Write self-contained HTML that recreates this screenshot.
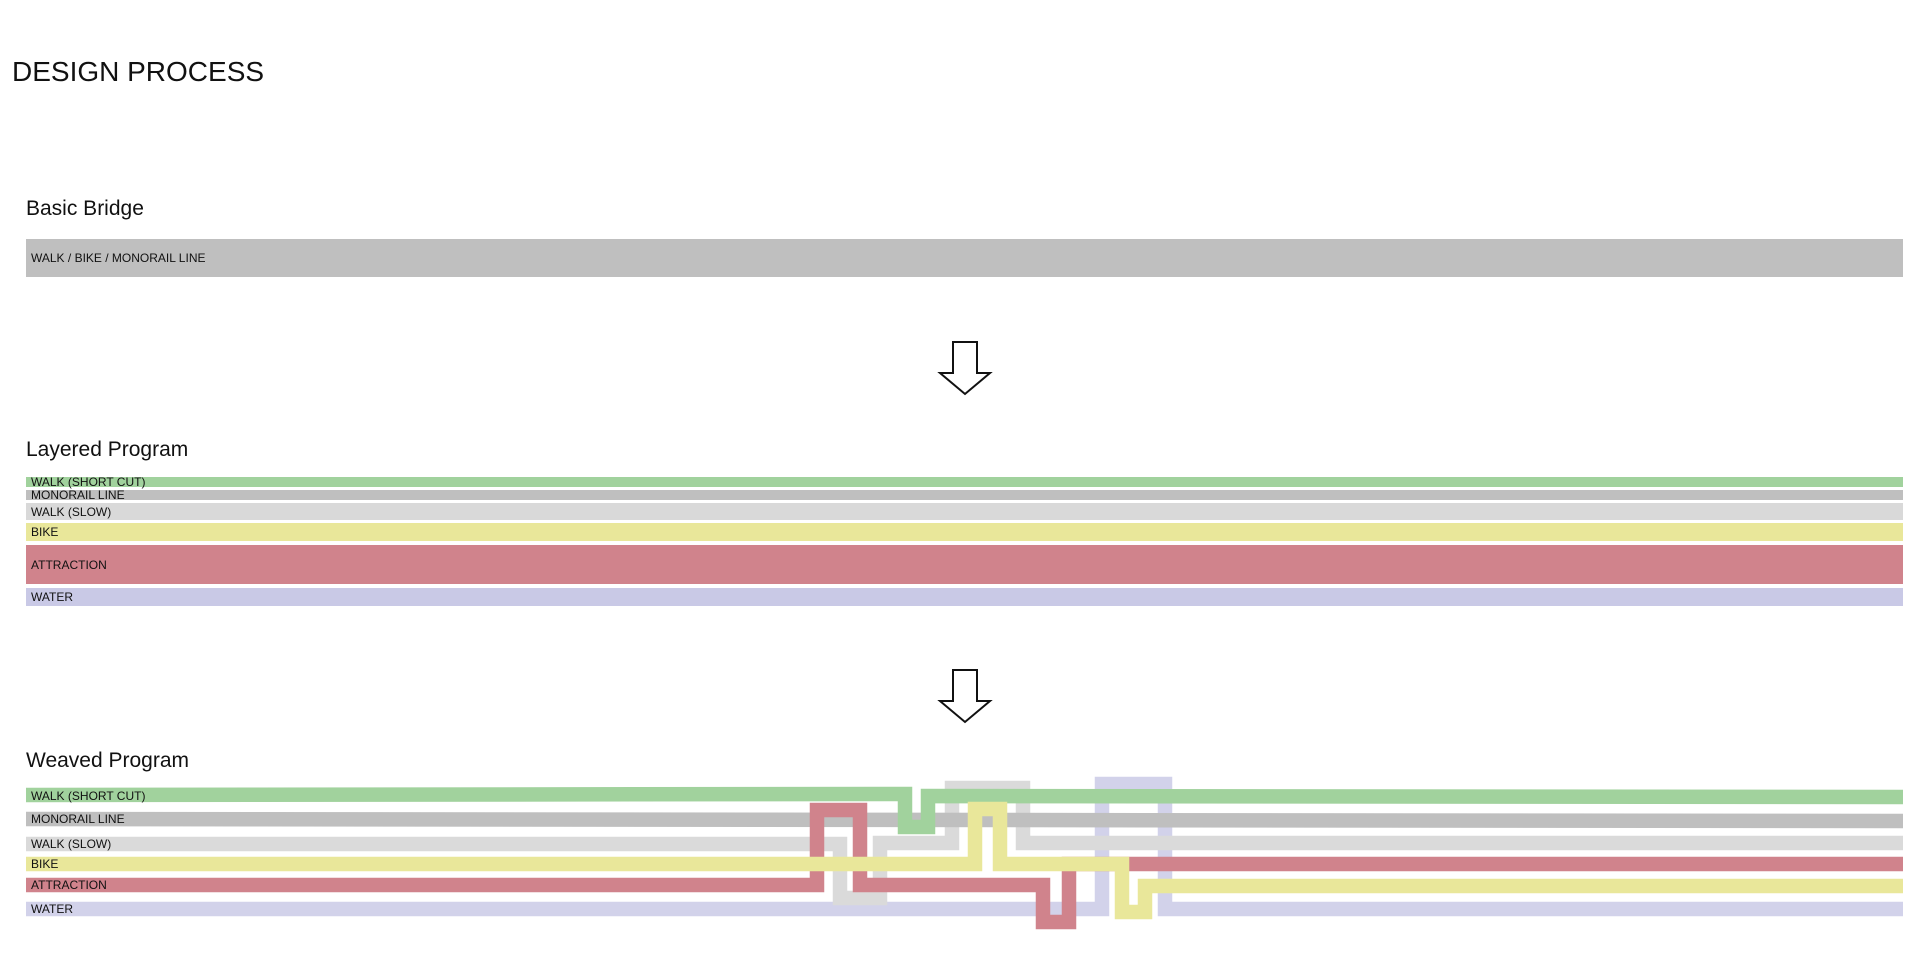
<!DOCTYPE html>
<html><head><meta charset="utf-8"><style>
html,body{margin:0;padding:0;background:#fff;width:1920px;height:980px;overflow:hidden}
svg{display:block}
text{font-family:"Liberation Sans",sans-serif;fill:#111}
.l{font-size:12px}
.h{font-size:21px}
</style></head><body>
<svg width="1920" height="980" viewBox="0 0 1920 980">
<text x="12" y="81" style="font-size:28px">DESIGN PROCESS</text>

<text class="h" x="26" y="215">Basic Bridge</text>
<rect x="26" y="239" width="1877" height="38" fill="#bfbfbf"/>
<text class="l" x="31" y="262">WALK / BIKE / MONORAIL LINE</text>

<g fill="#fff" stroke="#111" stroke-width="2">
<polygon points="953,342 977,342 977,373 990,373 965,394 940,373 953,373"/>
<polygon points="953,670 977,670 977,701 990,701 965,722 940,701 953,701"/>
</g>

<text class="h" x="26" y="456">Layered Program</text>
<rect x="26" y="477" width="1877" height="10" fill="#a1d29d"/>
<rect x="26" y="490" width="1877" height="10" fill="#bfbfbf"/>
<rect x="26" y="503" width="1877" height="17" fill="#d9d9d9"/>
<rect x="26" y="523" width="1877" height="18" fill="#e9e79a"/>
<rect x="26" y="545" width="1877" height="39" fill="#d0838c"/>
<rect x="26" y="588" width="1877" height="18" fill="#c9c9e6"/>
<text class="l" x="31" y="486">WALK (SHORT CUT)</text>
<text class="l" x="31" y="499">MONORAIL LINE</text>
<text class="l" x="31" y="516">WALK (SLOW)</text>
<text class="l" x="31" y="536">BIKE</text>
<text class="l" x="31" y="569">ATTRACTION</text>
<text class="l" x="31" y="601">WATER</text>

<text class="h" x="26" y="767">Weaved Program</text>
<g fill="none" stroke-width="14.5" stroke-linejoin="miter" stroke-linecap="butt">
<polyline stroke="#d2d2ea" points="26,909 1102,909 1102,784 1165,784 1165,909 1903,909"/>
<polyline stroke="#dadada" points="26,844 840,844 840,898 880,898 880,843 952,843 952,788 1023,788 1023,843 1903,843"/>
<polyline stroke="#bfbfbf" points="26,819 1903,821"/>
<polyline stroke="#a1d29d" points="26,795 905,794 905,827 928,827 928,796 1903,797"/>
<polyline stroke="#d0838c" points="26,885 817,885 817,810 860,810 860,885 1043,885 1043,922 1069,922 1069,864 1903,864"/>
<polyline stroke="#e9e79a" points="26,864 975,864 975,809 1000,809 1000,864 1122,864 1122,912 1145,912 1145,886 1903,886"/>
</g>
<text class="l" x="31" y="800">WALK (SHORT CUT)</text>
<text class="l" x="31" y="823">MONORAIL LINE</text>
<text class="l" x="31" y="848">WALK (SLOW)</text>
<text class="l" x="31" y="868">BIKE</text>
<text class="l" x="31" y="889">ATTRACTION</text>
<text class="l" x="31" y="913">WATER</text>
</svg>
</body></html>
